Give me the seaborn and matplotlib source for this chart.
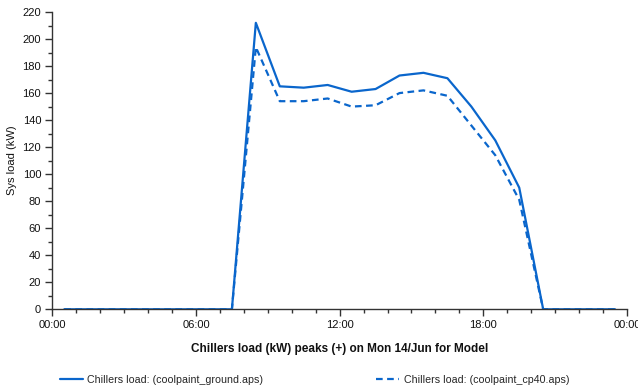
import matplotlib
matplotlib.use("Agg")
import matplotlib.pyplot as plt
from matplotlib.lines import Line2D
import seaborn as sns
import numpy as np
import pandas as pd

hours = [0.5 + i for i in range(24)]
ground = [0, 0, 0, 0, 0, 0, 0, 0, 212, 165, 164, 166, 161, 163, 173, 175, 171, 150, 125, 90, 0, 0, 0, 0]
cp40 = [0, 0, 0, 0, 0, 0, 0, 0, 194, 154, 154, 156, 150, 151, 160, 162, 158, 136, 114, 81, 0, 0, 0, 0]
xtick_labels = ["00:00", "06:00", "12:00", "18:00", "00:00"]
label_ground = "Chillers load: (coolpaint_ground.aps)"
label_cp40 = "Chillers load: (coolpaint_cp40.aps)"

sns.set_style("white")
plt.rcParams['font.family'] = ['Liberation Sans', 'DejaVu Sans']

color = "#0a66cc"
fig = plt.figure(figsize=(6.38, 3.89), dpi=100)
ax = fig.add_axes([52.3 / 638, 1 - 309.3 / 389, (627 - 52.3) / 638, (309.3 - 12) / 389])

sns.lineplot(x=hours, y=ground, ax=ax, color=color, linewidth=1.6)
sns.lineplot(x=hours, y=cp40, ax=ax, color=color, linewidth=1.6, linestyle=(0, (3, 2)))

ax.set_xlim(0, 24)
ax.set_ylim(0, 220)
ax.set_xticks([0, 6, 12, 18, 24])
ax.set_xticklabels(xtick_labels)
ax.set_xticks(np.arange(0, 25, 1), minor=True)
ax.set_yticks(np.arange(0, 221, 20))
ax.set_yticks(np.arange(0, 221, 10), minor=True)

for s in ["top", "right"]:
    ax.spines[s].set_visible(False)
for s in ["left", "bottom"]:
    ax.spines[s].set_color("#333333")
    ax.spines[s].set_linewidth(1.0)

ax.tick_params(which="major", direction="out", length=5, width=1, color="#333333",
               labelsize=8, labelcolor="#111111", left=True, bottom=True, pad=3)
ax.tick_params(which="minor", direction="out", length=3, width=1, color="#333333",
               left=True, bottom=True)

ax.set_ylabel("Sys load (kW)", fontsize=8, color="#111111", labelpad=4)
ax.set_xlabel("Chillers load (kW) peaks (+) on Mon 14/Jun for Model", fontsize=8.5,
              fontweight="bold", color="#111111", labelpad=9)

handles = [Line2D([], [], color=color, linewidth=1.6),
           Line2D([], [], color=color, linewidth=1.6, linestyle=(0, (3, 2)))]
fig.legend(handles, [label_ground, label_cp40], loc="center left",
           bbox_to_anchor=(50 / 638, 1 - 380 / 389), ncol=2, frameon=False,
           fontsize=7.7, handlelength=2.2, handletextpad=0.4, columnspacing=10.5)

fig.savefig("out.png", dpi=100)
